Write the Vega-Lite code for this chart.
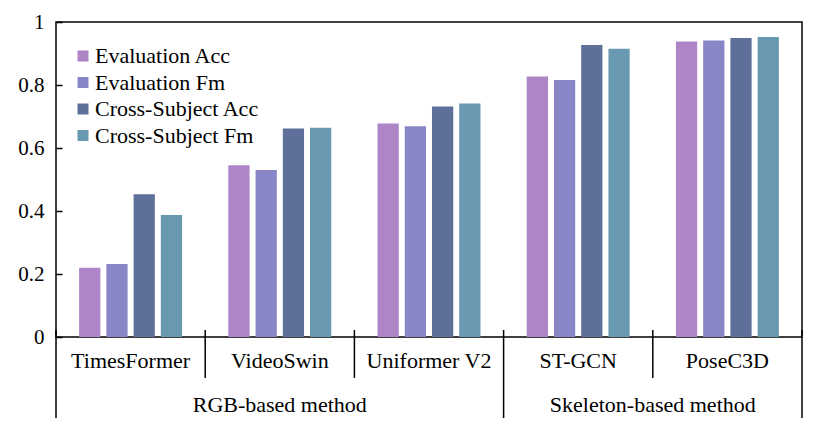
{
  "$schema": "https://vega.github.io/schema/vega-lite/v6.json",
  "width": 746,
  "height": 315,
  "autosize": {"type": "none"},
  "padding": {"left": 56, "top": 22, "right": 28, "bottom": 84},
  "config": {
    "font": "Liberation Serif",
    "view": {"stroke": "black", "strokeWidth": 1.5},
    "axis": {"labelFont": "Liberation Serif"},
    "legend": {"labelFont": "Liberation Serif"},
    "text": {"font": "Liberation Serif"}
  },
  "datasets": {
    "scores": [
      {"method": "TimesFormer", "series": "Evaluation Acc", "value": 0.22},
      {"method": "TimesFormer", "series": "Evaluation Fm", "value": 0.232},
      {"method": "TimesFormer", "series": "Cross-Subject Acc", "value": 0.453},
      {"method": "TimesFormer", "series": "Cross-Subject Fm", "value": 0.387},
      {"method": "VideoSwin", "series": "Evaluation Acc", "value": 0.545},
      {"method": "VideoSwin", "series": "Evaluation Fm", "value": 0.53},
      {"method": "VideoSwin", "series": "Cross-Subject Acc", "value": 0.662},
      {"method": "VideoSwin", "series": "Cross-Subject Fm", "value": 0.664},
      {"method": "Uniformer V2", "series": "Evaluation Acc", "value": 0.678},
      {"method": "Uniformer V2", "series": "Evaluation Fm", "value": 0.669},
      {"method": "Uniformer V2", "series": "Cross-Subject Acc", "value": 0.732},
      {"method": "Uniformer V2", "series": "Cross-Subject Fm", "value": 0.741},
      {"method": "ST-GCN", "series": "Evaluation Acc", "value": 0.827},
      {"method": "ST-GCN", "series": "Evaluation Fm", "value": 0.816},
      {"method": "ST-GCN", "series": "Cross-Subject Acc", "value": 0.927},
      {"method": "ST-GCN", "series": "Cross-Subject Fm", "value": 0.915},
      {"method": "PoseC3D", "series": "Evaluation Acc", "value": 0.938},
      {"method": "PoseC3D", "series": "Evaluation Fm", "value": 0.941},
      {"method": "PoseC3D", "series": "Cross-Subject Acc", "value": 0.949},
      {"method": "PoseC3D", "series": "Cross-Subject Fm", "value": 0.952}
    ],
    "dividers": [
      {"pos": 0, "kind": "group"},
      {"pos": 1, "kind": "method"},
      {"pos": 2, "kind": "method"},
      {"pos": 3, "kind": "group"},
      {"pos": 4, "kind": "method"},
      {"pos": 5, "kind": "group"}
    ],
    "groups": [
      {"group": "RGB-based method", "pos": 1.5},
      {"group": "Skeleton-based method", "pos": 4}
    ]
  },
  "layer": [
    {
      "data": {"name": "scores"},
      "mark": {"type": "bar"},
      "encoding": {
        "x": {
          "field": "method",
          "type": "nominal",
          "sort": ["TimesFormer", "VideoSwin", "Uniformer V2", "ST-GCN", "PoseC3D"],
          "scale": {"paddingInner": 0.31, "paddingOuter": 0.155},
          "axis": {
            "title": null,
            "ticks": false,
            "domain": false,
            "labelAngle": 0,
            "labelFont": "Liberation Serif",
            "labelFontSize": 22,
            "labelColor": "black",
            "labelPadding": 13
          }
        },
        "xOffset": {
          "field": "series",
          "type": "nominal",
          "sort": ["Evaluation Acc", "Evaluation Fm", "Cross-Subject Acc", "Cross-Subject Fm"],
          "scale": {"paddingInner": 0.22, "paddingOuter": 0}
        },
        "y": {
          "field": "value",
          "type": "quantitative",
          "scale": {"domain": [0, 1]},
          "axis": {
            "title": null,
            "values": [0, 0.2, 0.4, 0.6, 0.8, 1],
            "format": "~g",
            "grid": false,
            "domain": false,
            "tickSize": -6,
            "tickColor": "black",
            "tickWidth": 1.5,
            "labelFont": "Liberation Serif",
            "labelFontSize": 21,
            "labelColor": "black",
            "labelPadding": 18
          }
        },
        "color": {
          "field": "series",
          "type": "nominal",
          "scale": {
            "domain": ["Evaluation Acc", "Evaluation Fm", "Cross-Subject Acc", "Cross-Subject Fm"],
            "range": ["#ae85c6", "#8986c8", "#5e6f99", "#6998b1"]
          },
          "legend": {
            "title": null,
            "orient": "none",
            "legendX": 16,
            "legendY": 23,
            "padding": 0,
            "symbolType": "square",
            "symbolSize": 121,
            "symbolStrokeWidth": 0,
            "labelFont": "Liberation Serif",
            "labelFontSize": 22,
            "labelLimit": 400,
            "labelColor": "black",
            "labelOffset": 1,
            "rowPadding": 4.5
          }
        }
      }
    },
    {
      "data": {"name": "dividers"},
      "transform": [{"filter": "datum.kind == 'method'"}],
      "mark": {"type": "rule", "color": "black", "strokeWidth": 1.5},
      "encoding": {
        "x": {"field": "pos", "type": "quantitative", "scale": {"domain": [0, 5], "nice": false, "zero": false}, "axis": null},
        "y": {"datum": 0.0222, "type": "quantitative", "scale": {"domain": [0, 1]}},
        "y2": {"datum": -0.1302}
      }
    },
    {
      "data": {"name": "dividers"},
      "transform": [{"filter": "datum.kind == 'group'"}],
      "mark": {"type": "rule", "color": "black", "strokeWidth": 1.5},
      "encoding": {
        "x": {"field": "pos", "type": "quantitative", "scale": {"domain": [0, 5], "nice": false, "zero": false}, "axis": null},
        "y": {"datum": 0.0222, "type": "quantitative", "scale": {"domain": [0, 1]}},
        "y2": {"datum": -0.2571}
      }
    },
    {
      "data": {"name": "groups"},
      "mark": {"type": "text", "font": "Liberation Serif", "fontSize": 22, "color": "black", "baseline": "alphabetic", "align": "center"},
      "encoding": {
        "x": {"field": "pos", "type": "quantitative", "scale": {"domain": [0, 5], "nice": false, "zero": false}, "axis": null},
        "y": {"datum": -0.238, "type": "quantitative", "scale": {"domain": [0, 1]}},
        "text": {"field": "group", "type": "nominal"}
      }
    }
  ],
  "resolve": {"scale": {"x": "independent"}}
}
